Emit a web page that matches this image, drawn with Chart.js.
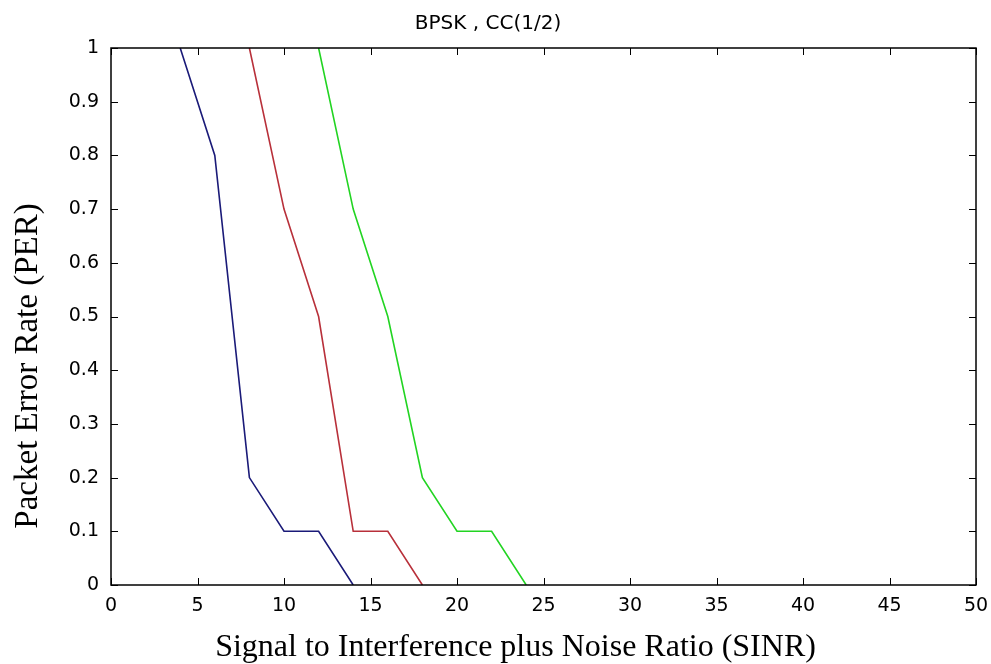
<!DOCTYPE html>
<html>
<head>
<meta charset="utf-8">
<script src="https://cdn.jsdelivr.net/npm/chart.js@4.4.1/dist/chart.umd.min.js"></script>
<style>
    html, body { margin: 0; padding: 0; background: #fff; }
    #wrap { width: 991px; height: 664px; }
</style>
</head>
<body>
<div id="wrap"><canvas id="perChart" width="991" height="664"></canvas></div>
<script>
// PER curves (SINR in dB)
const sinrBlue = [4, 6, 8, 10, 12, 14];
const perBlue = [1, 0.8, 0.2, 0.1, 0.1, 0];

const sinrRed = [8, 10, 12, 14, 16, 18];
const perRed = [1, 0.7, 0.5, 0.1, 0.1, 0];

const sinrGreen = [12, 14, 16, 18, 20, 22, 24];
const perGreen = [1, 0.7, 0.5, 0.2, 0.1, 0.1, 0];

const xTicks = [0, 5, 10, 15, 20, 25, 30, 35, 40, 45, 50];
const yTicks = [0, 0.1, 0.2, 0.3, 0.4, 0.5, 0.6, 0.7, 0.8, 0.9, 1];

function toPoints(xs, ys) {
    return xs.map((x, i) => ({ x: x, y: ys[i] }));
}

const tickFont = { family: 'DejaVu Sans', size: 19 };
const labelFont = { family: 'Liberation Serif', size: 32, lineHeight: 1 };

// matlab style box with ticks pointing inwards
const matlabBox = {
    id: 'matlabBox',
    afterDatasetsDraw(chart) {
        const { ctx, chartArea: a, scales } = chart;
        const len = 7;
        ctx.save();
        ctx.strokeStyle = '#000';
        ctx.lineWidth = 1;
        ctx.beginPath();
        xTicks.forEach(v => {
            const px = Math.round(scales.x.getPixelForValue(v)) + 0.5;
            ctx.moveTo(px, a.bottom); ctx.lineTo(px, a.bottom - len);
            ctx.moveTo(px, a.top); ctx.lineTo(px, a.top + len);
        });
        yTicks.forEach(v => {
            const py = Math.round(scales.y.getPixelForValue(v)) + 0.5;
            ctx.moveTo(a.left, py); ctx.lineTo(a.left + len, py);
            ctx.moveTo(a.right, py); ctx.lineTo(a.right - len, py);
        });
        ctx.stroke();
        ctx.lineWidth = 1.5;
        ctx.strokeRect(a.left, a.top, a.right - a.left, a.bottom - a.top);
        ctx.restore();
    }
};

new Chart(document.getElementById('perChart').getContext('2d'), {
    type: 'line',
    data: {
        datasets: [
            { data: toPoints(sinrBlue, perBlue), borderColor: '#1a1a78' },
            { data: toPoints(sinrRed, perRed), borderColor: '#b8303a' },
            { data: toPoints(sinrGreen, perGreen), borderColor: '#22d422' }
        ]
    },
    options: {
        responsive: false,
        animation: false,
        events: [],
        layout: { padding: { left: 0, right: 15, top: 0, bottom: 0 } },
        elements: {
            line: { borderWidth: 1.6, tension: 0 },
            point: { radius: 0 }
        },
        plugins: {
            legend: { display: false },
            tooltip: { enabled: false },
            title: {
                display: true,
                text: 'BPSK , CC(1/2)',
                color: '#000',
                font: { family: 'DejaVu Sans', size: 20, weight: 'normal', lineHeight: 1.2 },
                padding: { top: 12, bottom: 12 }
            }
        },
        scales: {
            x: {
                type: 'linear',
                min: 0,
                max: 50,
                afterFit: s => {
                    s.height = 79;
                    s.paddingLeft = 0;
                    s.paddingRight = 0;
                },
                afterBuildTicks: s => { s.ticks = xTicks.map(v => ({ value: v })); },
                grid: { display: false, drawTicks: false },
                border: { display: false },
                ticks: { color: '#000', font: tickFont, padding: 10, maxRotation: 0 },
                title: {
                    display: true,
                    text: 'Signal to Interference plus Noise Ratio (SINR)' + '\u00a0'.repeat(7),
                    color: '#000',
                    font: labelFont,
                    padding: { top: 0, bottom: 0 }
                }
            },
            y: {
                min: 0,
                max: 1,
                afterFit: s => { s.width = 111; },
                afterBuildTicks: s => { s.ticks = yTicks.map(v => ({ value: v })); },
                grid: { display: false, drawTicks: false },
                border: { display: false },
                ticks: {
                    color: '#000',
                    font: tickFont,
                    padding: 12,
                    callback: v => (v === 0 || v === 1) ? String(v) : v.toFixed(1)
                },
                title: {
                    display: true,
                    text: 'Packet Error Rate (PER)' + '\u00a0'.repeat(12),
                    color: '#000',
                    font: { family: 'Liberation Serif', size: 33, lineHeight: 1 },
                    padding: { top: 12, bottom: 0 }
                }
            }
        }
    },
    plugins: [matlabBox]
});
</script>
</body>
</html>
